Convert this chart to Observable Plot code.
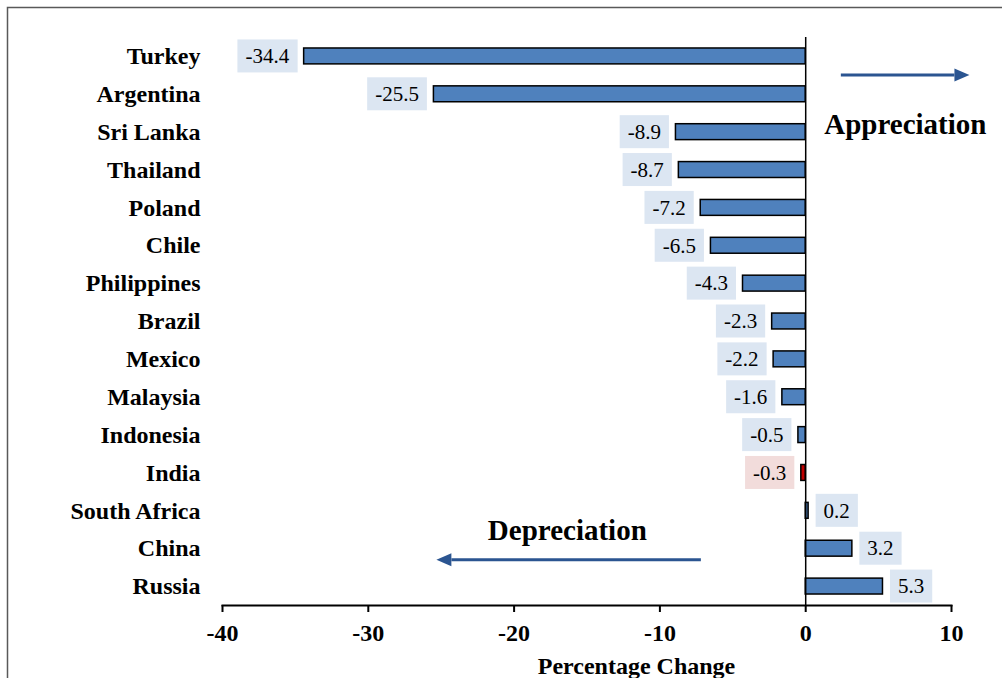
<!DOCTYPE html>
<html><head><meta charset="utf-8">
<script src="https://cdn.jsdelivr.net/npm/d3@7"></script>
<script src="https://cdn.jsdelivr.net/npm/@observablehq/plot@0.6"></script>
<style>body{margin:0;background:#fff;} svg{display:block;}</style>
</head><body><div id="chart"></div>
<script>
const countries = ["Turkey","Argentina","Sri Lanka","Thailand","Poland","Chile","Philippines","Brazil","Mexico","Malaysia","Indonesia","India","South Africa","China","Russia"];
const changes = [-34.4,-25.5,-8.9,-8.7,-7.2,-6.5,-4.3,-2.3,-2.2,-1.6,-0.5,-0.3,0.2,3.2,5.3];
const highlight = "India";
const xTicks = [-40,-30,-20,-10,0,10];
const xLabel = "Percentage Change";
const noteTexts = [{text:"Appreciation", x:1.27, row:"Sri Lanka"}, {text:"Depreciation", x:-21.8, row:"China"}];
const arrowNotes = [{from:2.41, to:10.2, row:"Turkey"}, {from:-7.19, to:-24.3, row:"China"}];

const data = countries.map((c,i)=>({country:c, value:changes[i], label:changes[i].toFixed(1)}));
const neg = data.filter(d=>d.value<0), pos = data.filter(d=>d.value>=0);
const barFill = d => d.country===highlight ? "#c00000" : "#4f81bd";
const boxFill = d => d.country===highlight ? "#f2dcdb" : "#dce6f2";
const arrowColor = "#2b5591";
const font = "'Liberation Serif','Times New Roman',serif";

const plot = Plot.plot({
  width:1002, height:678,
  marginTop:37, marginBottom:73, marginLeft:222, marginRight:51,
  style:{fontFamily:font, background:"white", color:"black"},
  x:{domain:[-40,10], label:null},
  y:{domain:countries, paddingInner:0.58, paddingOuter:0.29, round:false, label:null},
  marks:[
    Plot.axisY({tickSize:0, tickPadding:22, fontSize:24, fontWeight:"bold", label:null}),
    Plot.axisX({ticks:xTicks, tickFormat:d=>String(d), tickSize:7, tickPadding:11, fontSize:24, fontWeight:"bold", strokeWidth:2, label:null}),
    Plot.frame({anchor:"bottom", strokeWidth:2}),
    Plot.barX(data, {x:"value", y:"country", fill:barFill, stroke:"black", strokeWidth:1.5}),
    Plot.ruleX([0], {strokeWidth:1.5}),
    Plot.text(neg, {x:"value", y:"country", text:"label", textAnchor:"end", dx:-15, fontSize:21}),
    Plot.text(pos, {x:"value", y:"country", text:"label", textAnchor:"start", dx:15, fontSize:21}),
    Plot.text([noteTexts[0]], {x:"x", y:"row", text:"text", textAnchor:"start", lineAnchor:"bottom", dy:1.6, fontSize:29, fontWeight:"bold"}),
    Plot.text([noteTexts[1]], {x:"x", y:"row", text:"text", textAnchor:"start", lineAnchor:"bottom", dy:-8.9, fontSize:29, fontWeight:"bold"}),
    Plot.link([arrowNotes[0]], {x1:"from", x2:"to", y1:"row", y2:"row", dy:18.6, stroke:arrowColor, strokeWidth:3}),
    Plot.link([arrowNotes[1]], {x1:"from", x2:"to", y1:"row", y2:"row", dy:11.1, stroke:arrowColor, strokeWidth:3}),
    Plot.vector([arrowNotes[0]], {x:"to", y:"row", rotate:90, length:15, r:6.5, shape:"spike", anchor:"start", fill:arrowColor, stroke:"none", dy:18.6}),
    Plot.vector([arrowNotes[1]], {x:"to", y:"row", rotate:-90, length:15, r:6.5, shape:"spike", anchor:"start", fill:arrowColor, stroke:"none", dy:11.1}),
    Plot.text([xLabel], {text:d=>d, frameAnchor:"bottom", dx:49.5, dy:68, lineAnchor:"bottom", fontSize:24, fontWeight:"bold"})
  ]
});
document.getElementById("chart").append(plot);

// label background boxes
const yS = plot.scale("y");
const bw = yS.bandwidth;
const svgRect = plot.getBoundingClientRect();
const groups = plot.querySelectorAll('g[aria-label="text"]');
const ns = "http://www.w3.org/2000/svg";
const boxG = document.createElementNS(ns, "g");
[[groups[0], neg], [groups[1], pos]].forEach(([g, arr]) => {
  g.querySelectorAll("text").forEach((t, i) => {
    const d = arr[i];
    const r = t.getBoundingClientRect();
    const cy = yS.apply(d.country) + bw/2;
    const rect = document.createElementNS(ns, "rect");
    rect.setAttribute("x", r.left - svgRect.left - 8);
    rect.setAttribute("width", r.width + 16);
    rect.setAttribute("y", cy - 16.5);
    rect.setAttribute("height", 33);
    rect.setAttribute("fill", boxFill(d));
    boxG.append(rect);
  });
});
groups[0].parentNode.insertBefore(boxG, groups[0]);

// outer border
d3.select(plot).append("rect").attr("x",7.5).attr("y",7.5).attr("width",1010).attr("height",700)
  .attr("fill","none").attr("stroke","#595959").attr("stroke-width",1.5);
</script>
</body></html>
